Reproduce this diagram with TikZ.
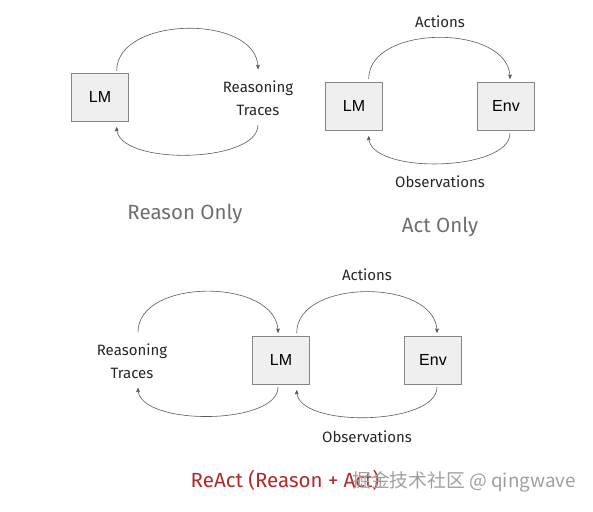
\documentclass[tikz,border=0pt]{standalone}
\usepackage{fontspec}
\setmainfont{Fira Sans}
\newfontfamily\boxfont{Liberation Sans}
\newfontfamily\cjkfont{Noto Sans CJK SC}
\usetikzlibrary{arrows}
\definecolor{boxfill}{HTML}{EFEFEF}
\definecolor{boxline}{HTML}{858585}
\definecolor{arcgray}{HTML}{5A5A5A}
\definecolor{titlegray}{HTML}{6E6E6E}
\definecolor{reactred}{HTML}{B02A2A}

\begin{document}
\begin{tikzpicture}[x=1pt,y=-1pt,>=stealth',
    agent/.style={draw=boxline,fill=boxfill,minimum width=57pt,minimum height=48pt,
      font=\boxfont\fontsize{16}{18}\selectfont},
    lbl/.style={align=center,font=\fontsize{15}{23}\selectfont,text=black!85},
    caption/.style={font=\fontsize{20.5}{22}\selectfont,text=titlegray},
    flow/.style={->,draw=arcgray,line width=0.6pt,arrows={-stealth'[scale=1.3]}}]
  \useasboundingbox (0,0) rectangle (593,511);

  % reason only
  \node[agent] (lm1) at (100,97) {LM};
  \node[lbl] (rt1) at (258,98) {Reasoning\\Traces};
  \node[caption] (cap1) at (185,214) {Reason Only};
  \draw[flow] ([xshift=-12pt,yshift=2pt]lm1.north east) to[out=90,in=90,looseness=1] ([yshift=8pt]rt1.north);
  \draw[flow] ([yshift=-6pt]rt1.south) to[out=-90,in=-90,looseness=0.7] ([xshift=-12pt,yshift=-6pt]lm1.south east);

  % act only
  \node[agent] (lm2) at (354,106) {LM};
  \node[agent] (env2) at (506,106) {Env};
  \node[lbl] (act2) at (440,22) {Actions};
  \node[lbl] (obs2) at (440,182) {Observations};
  \node[caption] (cap2) at (440,227) {Act Only};
  \draw[flow] ([xshift=-14pt,yshift=3pt]lm2.north east) to[out=90,in=90,looseness=1] ([xshift=4pt,yshift=3pt]env2.north);
  \draw[flow] ([xshift=4pt,yshift=-3pt]env2.south) to[out=-90,in=-90,looseness=0.7] ([xshift=-14pt,yshift=-6pt]lm2.south east);

  % react
  \node[agent] (lm3) at (281,360) {LM};
  \node[agent] (env3) at (433,360) {Env};
  \node[lbl] (rt3) at (132,361) {Reasoning\\Traces};
  \node[lbl] (act3) at (367,275) {Actions};
  \node[lbl] (obs3) at (367,437) {Observations};
  \node[caption,text=reactred] (cap3) at (285,480) {ReAct (Reason + Act)};
  \draw[flow] ([xshift=6pt,yshift=8pt]rt3.north) to[out=90,in=90,looseness=1] ([xshift=-3pt,yshift=3pt]lm3.north);
  \draw[flow] ([xshift=-3pt,yshift=-3pt]lm3.south) to[out=-90,in=-90,looseness=0.7] ([xshift=6pt,yshift=-6pt]rt3.south);
  \draw[flow] ([xshift=-13pt,yshift=3pt]lm3.north east) to[out=90,in=90,looseness=1] ([xshift=4pt,yshift=3pt]env3.north);
  \draw[flow] ([xshift=4pt,yshift=-3pt]env3.south) to[out=-90,in=-90,looseness=0.7] ([xshift=-13pt,yshift=-6pt]lm3.south east);

  \node[font=\cjkfont\fontsize{18.8}{20}\selectfont,text=gray!75] (mark) at (464,482) {掘金技术社区 @ qingwave};
\end{tikzpicture}
\end{document}
